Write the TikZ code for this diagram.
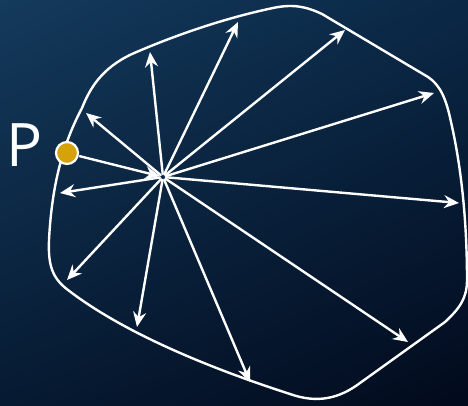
\documentclass[tikz,border=0pt]{standalone}
\usepackage{fontspec}
\setmainfont{Open Sans}
\usetikzlibrary{arrows.meta,shadings}
\definecolor{bgtl}{RGB}{20,58,92}
\definecolor{bgtr}{RGB}{10,40,70}
\definecolor{bgbl}{RGB}{6,26,50}
\definecolor{bgbr}{RGB}{2,10,28}
\definecolor{pgold}{RGB}{214,162,10}
\tikzset{
  ray/.style={white, line width=2.4pt, -{Stealth[length=15pt,width=13pt,inset=5pt]}, shorten <=3pt},
  hull/.style={white, line width=2.4pt},
  pdot/.style={circle, fill=pgold, draw=white, line width=2.2pt, minimum size=22pt, inner sep=0pt}
}
\begin{document}
\begin{tikzpicture}[x=1pt, y=-1pt, line join=round, line cap=round]
  % background
  \shade[upper left=bgtl, upper right=bgtr, lower left=bgbl, lower right=bgbr] (0,0) rectangle (468,406);
  \useasboundingbox (0,0) rectangle (468,406);
  % outline of the region
  \draw[hull] (132,54) .. controls (180,33) and (230,17) .. (273,8)
    .. controls (292,4) and (305,6) .. (322,14) -- (428,77)
    .. controls (440,85) and (446,98) .. (451,122)
    .. controls (462,170) and (467,225) .. (467,280)
    .. controls (467,298) and (460,308) .. (445,322) -- (360,383)
    .. controls (340,398) and (318,404) .. (290,394)
    .. controls (200,365) and (120,330) .. (68,290)
    .. controls (52,278) and (48,265) .. (49,240)
    .. controls (52,180) and (65,140) .. (82,108)
    .. controls (90,88) and (102,68) .. cycle;
  % centre and rays
  \coordinate (c) at (163,177);
  \foreach \x/\y [count=\i] in {86/113, 150/52, 238/22, 345/30, 434/93, 459/203,
      408/342, 250/382, 137/327, 67/280, 60/193}{
    \coordinate (t\i) at (\x,\y);
    \draw[ray] (c) -- (t\i);
  }
  % the point P
  \node[pdot] (p) at (67,153) {};
  \node[white, font=\fontsize{60}{64}\selectfont, inner sep=0pt] (plabel) at (25,145) {P};
  \draw[ray, shorten <=1pt, shorten >=3pt] (p) -- (c);
\end{tikzpicture}
\end{document}
